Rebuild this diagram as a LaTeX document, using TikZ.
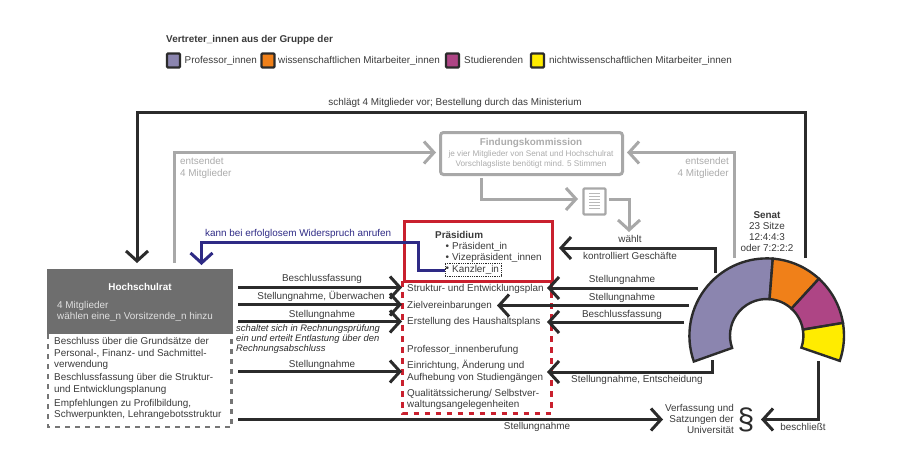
\documentclass[tikz,border=0pt]{standalone}
\usepackage{fontspec}
\setmainfont{Liberation Sans}
\usetikzlibrary{arrows.meta,calc}
\definecolor{txt}{HTML}{3A3A3A}
\definecolor{ink}{HTML}{2B2B2B}
\definecolor{grayline}{HTML}{A8A8A8}
\definecolor{graytxt}{HTML}{ABABAB}
\definecolor{hsr}{HTML}{6E6E6E}
\definecolor{redline}{HTML}{C9202E}
\definecolor{blueline}{HTML}{2E2A85}
\definecolor{cprof}{HTML}{8B85AF}
\definecolor{cwiss}{HTML}{F08019}
\definecolor{cstud}{HTML}{AE4585}
\definecolor{cnw}{HTML}{FFEC00}
\tikzset{
 lab/.style={font=\fontsize{9.9}{11}\selectfont,text=txt,inner sep=0pt,text height=7pt,text depth=2pt},
 lableft/.style={lab,anchor=west},
 labright/.style={lab,anchor=east},
 graylab/.style={lab,text=graytxt},
 arrow/.style={draw=ink,line width=3pt,-{Straight Barb[length=10pt,width=22pt,line width=3pt]}},
 grayarrow/.style={draw=grayline,line width=3pt,-{Straight Barb[length=10pt,width=22pt,line width=3pt]}},
 bluearrow/.style={draw=blueline,line width=3pt,-{Straight Barb[length=10pt,width=22pt,line width=3pt]}},
 swatch/.style={draw=ink,line width=2.4pt,rounded corners=1pt,minimum width=13pt,minimum height=14pt,inner sep=0pt},
 seg/.style={draw=ink,line width=2.4pt,line join=miter},
}
\begin{document}
\begin{tikzpicture}[x=1pt,y=-1pt]
\useasboundingbox (0,0) rectangle (900,474);
% legend
\node[lab,anchor=west,font=\fontsize{9.9}{11}\selectfont\bfseries] (legtitle) at (166,40) {Vertreter\_innen aus der Gruppe der};
\node[swatch,fill=cprof] (s1) at (173.5,60.5) {};
\node[swatch,fill=cwiss] (s2) at (268,60.5) {};
\node[swatch,fill=cstud] (s3) at (452.5,60.5) {};
\node[swatch,fill=cnw] (s4) at (537.5,60.5) {};
\node[lableft] (l1) at (184.5,61) {Professor\_innen};
\node[lableft] (l2) at (278,61) {wissenschaftlichen Mitarbeiter\_innen};
\node[lableft] (l3) at (464,61) {Studierenden};
\node[lableft] (l4) at (549,61) {nichtwissenschaftlichen Mitarbeiter\_innen};
\node[lab] (schlaegt) at (455,103) {schlägt 4 Mitglieder vor; Bestellung durch das Ministerium};
% Hochschulrat
\node[rectangle,fill=hsr,draw=hsr,minimum width=185pt,minimum height=64pt,anchor=north west,inner sep=0pt] (hr) at (47,268.5) {};
\node[lab,text=white,font=\fontsize{9.9}{11}\selectfont\bfseries] (hrt) at (140,288) {Hochschulrat};
\node[lableft,text=white!88!black] (hr1) at (57,305.5) {4 Mitglieder};
\node[lableft,text=white!88!black] (hr2) at (57,317) {wählen eine\_n Vorsitzende\_n hinzu};
\coordinate (hd1) at (48,334);
\coordinate (hd2) at (48,427);
\coordinate (hd3) at (231.5,427);
\coordinate (hd4) at (231.5,334);
\draw[draw=txt!70!white,line width=2.6pt,dash pattern=on 5pt off 5pt] (hd1) -- (hd2) -- (hd3) -- (hd4);
\node[lableft] (h1) at (54,342) {Beschluss über die Grundsätze der};
\node[lableft] (h2) at (54,354) {Personal-, Finanz- und Sachmittel-};
\node[lableft] (h3) at (54,365) {verwendung};
\node[lableft] (h4) at (54,378) {Beschlussfassung über die Struktur-};
\node[lableft] (h5) at (54,390) {und Entwicklungsplanung};
\node[lableft] (h6) at (54,404) {Empfehlungen zu Profilbildung,};
\node[lableft] (h7) at (54,415) {Schwerpunkten, Lehrangebotsstruktur};
% Findungskommission
\node[rectangle,draw=grayline,line width=3pt,rounded corners=3pt,minimum width=182pt,minimum height=42pt,inner sep=0pt] (fk) at (531.5,153.5) {};
\node[graylab,font=\fontsize{9.9}{11}\selectfont\bfseries] (fkt) at (531,142.5) {Findungskommission};
\node[graylab,font=\fontsize{8.2}{9}\selectfont] (fk1) at (531,153.5) {je vier Mitglieder von Senat und Hochschulrat};
\node[graylab,font=\fontsize{8.2}{9}\selectfont] (fk2) at (531,163.5) {Vorschlagsliste benötigt mind. 5 Stimmen};
\node[graylab,anchor=west] (ent1) at (180,162) {entsendet};
\node[graylab,anchor=west] (ent2) at (180,173.5) {4 Mitglieder};
\node[graylab,anchor=east] (ent3) at (729,162) {entsendet};
\node[graylab,anchor=east] (ent4) at (729,173.5) {4 Mitglieder};
% document icon
\node[rectangle,draw=grayline,line width=2.4pt,rounded corners=1pt,minimum width=22pt,minimum height=26pt,inner sep=0pt] (doc) at (594.5,201.5) {};
\foreach \yy in {193.5,196.5,199.5,202.5,205.5,208.5}{\draw[grayline!80!white,line width=.8pt] (589,\yy) -- (600,\yy);}
% Präsidium
\node[rectangle,draw=redline,line width=3pt,minimum width=148.5pt,minimum height=60pt,anchor=north west,inner sep=0pt] (pr) at (402.5,219.5) {};
\node[lableft,font=\fontsize{9.9}{11}\selectfont\bfseries] (prt) at (435,236) {Präsidium};
\node[lableft] (pb1) at (445.5,247) {•};
\node[lableft] (pb2) at (445.5,258) {•};
\node[lableft] (pb3) at (445.5,269) {•};
\node[lableft] (p1) at (452,247) {Präsident\_in};
\node[lableft] (p2) at (452,258) {Vizepräsident\_innen};
\node[lableft] (p3) at (452,269.5) {Kanzler\_in};
\node[rectangle,draw=ink,densely dotted,line width=.8pt,minimum width=56pt,minimum height=13pt,inner sep=0pt] (kz) at (473,269.5) {};
% red dashed
\coordinate (rd1) at (402.5,281);
\coordinate (rd2) at (402.5,413);
\coordinate (rd3) at (551,413);
\coordinate (rd4) at (551,281);
\draw[draw=redline,line width=3pt,dash pattern=on 5.5pt off 5.5pt] (rd1) -- (rd2) -- (rd3) -- (rd4);
\node[lableft] (c1) at (407,288.5) {Struktur- und Entwicklungsplan};
\node[lableft] (c2) at (407,305.5) {Zielvereinbarungen};
\node[lableft] (c3) at (407,322) {Erstellung des Haushaltsplans};
\node[lableft] (c4) at (407,349.5) {Professor\_innenberufung};
\node[lableft] (c5) at (407,366) {Einrichtung, Änderung und};
\node[lableft] (c6) at (407,377.5) {Aufhebung von Studiengängen};
\node[lableft] (c7) at (407,394) {Qualitätssicherung/ Selbstver-};
\node[lableft] (c8) at (407,405) {waltungsangelegenheiten};
% blue
\node[lab,anchor=west,text=blueline] (blue) at (205,234) {kann bei erfolglosem Widerspruch anrufen};
\coordinate (b1) at (445,270);
\coordinate (b2) at (418,270);
\coordinate (b3) at (418,242);
\coordinate (b4) at (201.5,242);
\coordinate (b5) at (201.5,265);
\draw[bluearrow] (b1) -- (b2) -- (b3) -- (b4) -- (b5);
% top black line
\coordinate (t1) at (805,258);
\coordinate (t2) at (805,112.5);
\coordinate (t3) at (137,112.5);
\coordinate (t4) at (137,263);
\draw[arrow] (t1) -- (t2) -- (t3) -- (t4);
% gray connectors
\coordinate (g1) at (174,263);
\coordinate (g2) at (174,152.5);
\coordinate (g3) at (436,152.5);
\draw[grayarrow] (g1) -- (g2) -- (g3);
\coordinate (g4) at (734.5,258);
\coordinate (g5) at (734.5,152.5);
\coordinate (g6) at (627,152.5);
\draw[grayarrow] (g4) -- (g5) -- (g6);
\coordinate (g7) at (481,178);
\coordinate (g8) at (481,199);
\coordinate (g9) at (578,199);
\draw[grayarrow] (g7) -- (g8) -- (g9);
\coordinate (g10) at (609,199);
\coordinate (g11) at (629,199);
\coordinate (g12) at (629,232);
\draw[grayarrow] (g10) -- (g11) -- (g12);
\node[lab] (waehlt) at (630,240) {wählt};
% left arrows
\foreach \n/\yy/\tx in {1/287.5/402,2/304.5/402,3/321.5/402,4/371.5/402}{
  \coordinate (la\n) at (238,\yy);
  \coordinate (lb\n) at (\tx,\yy);
  \draw[arrow] (la\n) -- (lb\n);
}
\node[lab] (ll1) at (322,279) {Beschlussfassung};
\node[lab] (ll2) at (321,297) {Stellungnahme, Überwachen};
\node[lab] (ll3) at (322,315) {Stellungnahme};
\node[lab] (ll4) at (322,365) {Stellungnahme};
\node[lableft,font=\fontsize{9.4}{11}\selectfont\itshape,text=ink] (it1) at (236,329) {schaltet sich in Rechnungsprüfung};
\node[lableft,font=\fontsize{9.4}{11}\selectfont\itshape,text=ink] (it2) at (236,339) {ein und erteilt Entlastung über den};
\node[lableft,font=\fontsize{9.4}{11}\selectfont\itshape,text=ink] (it3) at (236,349) {Rechnungsabschluss};
% long bottom arrow
\coordinate (lo1) at (238,419.5);
\coordinate (lo2) at (663,419.5);
\draw[arrow] (lo1) -- (lo2);
\node[lab] (lolab) at (537,427) {Stellungnahme};
% right arrows
\coordinate (r1a) at (715,273);
\coordinate (r1b) at (715,248);
\coordinate (r1c) at (559,248);
\draw[arrow] (r1a) -- (r1b) -- (r1c);
\node[lab] (kg) at (630,257) {kontrolliert Geschäfte};
\coordinate (r2a) at (698,288);
\coordinate (r2b) at (547,288);
\draw[arrow] (r2a) -- (r2b);
\coordinate (r3a) at (689,305.5);
\coordinate (r3b) at (497,305.5);
\draw[arrow] (r3a) -- (r3b);
\coordinate (r4a) at (684,322);
\coordinate (r4b) at (547,322);
\draw[arrow] (r4a) -- (r4b);
\coordinate (r5a) at (712,360);
\coordinate (r5b) at (712,372);
\coordinate (r5c) at (547,372);
\draw[arrow] (r5a) -- (r5b) -- (r5c);
\node[lab] (rl1) at (622,280) {Stellungnahme};
\node[lab] (rl2) at (622,298) {Stellungnahme};
\node[lab] (rl3) at (622,315) {Beschlussfassung};
\node[lab] (rl4) at (637,380) {Stellungnahme, Entscheidung};
% Senat
\node[lab,font=\fontsize{9.9}{11}\selectfont\bfseries] (sen) at (767,216) {Senat};
\node[lab] (sen1) at (767,227) {23 Sitze};
\node[lab] (sen2) at (767,237.5) {12:4:4:3};
\node[lab] (sen3) at (767,249) {oder 7:2:2:2};
\coordinate (C) at (766.7,335.7);
\newcommand{\segm}[3]{%
 \draw[seg,fill=#3] ($(C)+({cos(#1)*77.3},{-sin(#1)*77.3})$) arc[start angle=-#1,end angle=-#2,radius=77.3] -- ($(C)+({cos(#2)*36.7},{-sin(#2)*36.7})$) arc[start angle=-#2,end angle=-#1,radius=36.7] -- cycle;}
\segm{199.5}{85.5}{cprof}
\segm{85.5}{47.5}{cwiss}
\segm{47.5}{9.5}{cstud}
\segm{9.5}{-19}{cnw}
% Verfassung
\coordinate (s1a) at (818,361);
\coordinate (s1b) at (818,419.5);
\coordinate (s1c) at (761,419.5);
\draw[arrow] (s1a) -- (s1b) -- (s1c);
\node[lab] (besch) at (803,427.5) {beschließt};
\node[labright] (v1) at (734,409) {Verfassung und};
\node[labright] (v2) at (734,420) {Satzungen der};
\node[labright] (v3) at (734,431) {Universität};
\node[inner sep=0pt,text=ink,font=\fontsize{30}{30}\selectfont] (par) at (746,419.5) {§};
\end{tikzpicture}
\end{document}
